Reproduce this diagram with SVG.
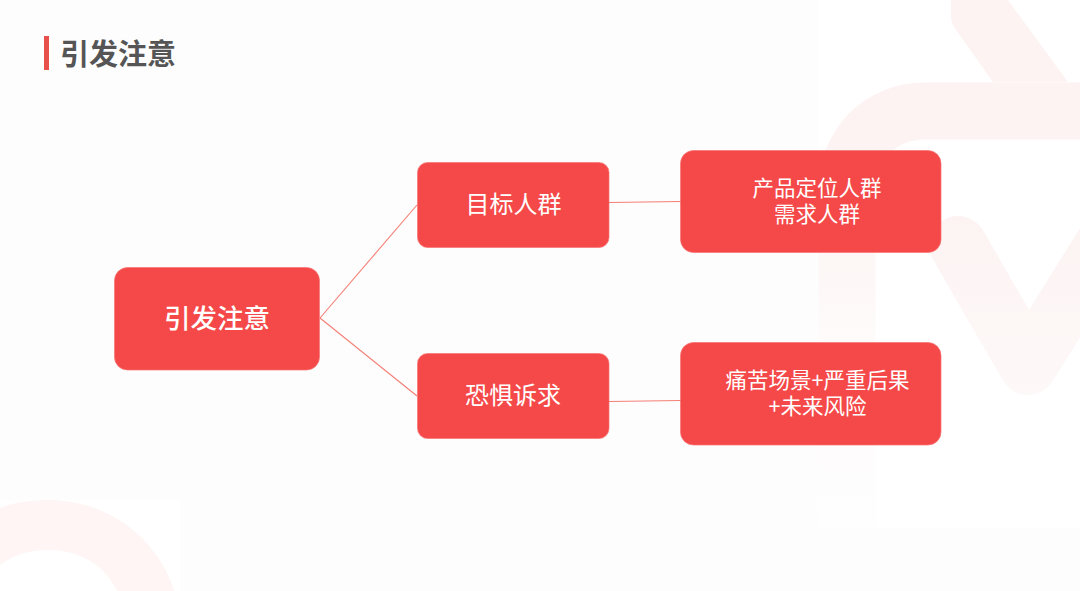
<svg xmlns="http://www.w3.org/2000/svg" width="1080" height="591" viewBox="0 0 1080 591">
<style>
.n{fill:#f54949;stroke:#f87474;stroke-width:0.7}
.t{font-family:"Noto Sans CJK SC","Noto Sans",sans-serif;fill:#fff;text-anchor:middle}
.l{fill:none;stroke:#f47f75;stroke-width:1.1}
</style>
<defs>
<linearGradient id="fade" gradientUnits="userSpaceOnUse" x1="0" y1="82" x2="0" y2="528"><stop offset="0.13" stop-color="#fdf3f2"/><stop offset="0.4" stop-color="#fdf7f6"/><stop offset="0.58" stop-color="#fefbfa"/><stop offset="0.8" stop-color="#fefcfc"/><stop offset="1" stop-color="#fefefe"/></linearGradient>
<linearGradient id="vee" gradientUnits="userSpaceOnUse" x1="0" y1="215" x2="0" y2="395"><stop offset="0" stop-color="#fdf3f3"/><stop offset="1" stop-color="#fdf9f8"/></linearGradient>
</defs>
<rect width="1080" height="591" fill="#fdfdfd"/>
<g id="watermark">
<rect x="818" y="0" width="262" height="528" fill="#fff"/>
<rect x="0" y="500" width="180" height="91" fill="#fff"/>
<path d="M1080 111H925C880 111 847 145 847 190V528" fill="none" stroke="url(#fade)" stroke-width="57"/>
<path d="M951 0V16Q951 23 956 30L993 82H1068L1008 0Z" fill="#fdf3f2"/>
<path d="M958 245L1028 366L1120 219" fill="none" stroke="url(#vee)" stroke-width="58" stroke-linecap="round" stroke-linejoin="round"/>
<path d="M0 508Q20 500 48 500C108 500 158 538 174 591H117C106 567 82 550 48 550Q20 550 0 565Z" fill="#fef5f4"/>
</g>
<g id="title">
<rect x="44" y="36" width="5" height="34" fill="#e8504c"/>
<text x="60" y="65" font-family="'Noto Sans CJK SC',sans-serif" font-size="29" font-weight="700" fill="#555">引发注意</text>
</g>
<g id="connectors">
<path class="l" d="M320 318L417 205"/>
<path class="l" d="M320 318L417 396"/>
<path class="l" d="M609 202.500L681 201.500"/>
<path class="l" d="M609 401.500L681 400.500"/>
</g>
<g id="root"><rect class="n" x="114.500" y="267.500" width="205" height="102.500" rx="13"/><text class="t" x="217" y="328" font-size="26.500" font-weight="500">引发注意</text></g>
<g id="target"><rect class="n" x="417.500" y="162.500" width="191.500" height="85" rx="10"/><text class="t" x="513.500" y="213" font-size="24">目标人群</text></g>
<g id="fear"><rect class="n" x="417.500" y="353.500" width="191.500" height="85" rx="10"/><text class="t" x="513" y="404" font-size="24">恐惧诉求</text></g>
<g id="target-detail"><rect class="n" x="680.500" y="150.500" width="260.500" height="102" rx="13"/><text class="t" font-size="21.500"><tspan x="817" y="196">产品定位人群</tspan><tspan x="817" y="222">需求人群</tspan></text></g>
<g id="fear-detail"><rect class="n" x="680.500" y="342.500" width="260.500" height="102.500" rx="13"/><text class="t" font-size="21.500"><tspan x="817.500" y="388">痛苦场景+严重后果</tspan><tspan x="817.500" y="414">+未来风险</tspan></text></g>
</svg>
